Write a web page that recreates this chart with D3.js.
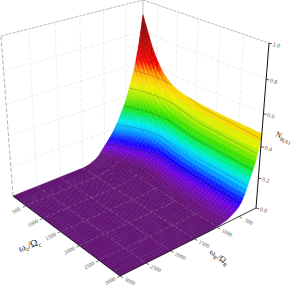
<!DOCTYPE html>
<html><head><meta charset="utf-8">
<script src="https://cdn.jsdelivr.net/npm/d3@7"></script>
<style>html,body{margin:0;padding:0;background:#fff;overflow:hidden}svg{display:block}text{font-family:"Liberation Serif",serif;fill:#555;text-rendering:geometricPrecision}</style>
</head><body><svg id="c" width="291" height="290"></svg>
<script>
const uValues=[100,150,200,250,330,480,680,900,1120,1650,2300,3000];
const vValues=[100,150,200,300,400,500,600,700,800,1000,1200,1500,2000,3000];
const zTable=[
[.91,.81,.72,.57,.47,.37,.30,.235,.18,.10,.03,0,0,0],
[.875,.775,.688,.542,.444,.347,.281,.219,.167,.093,.028,0,0,0],
[.84,.741,.656,.516,.417,.325,.262,.204,.155,.086,.025,0,0,0],
[.805,.707,.623,.488,.39,.302,.242,.188,.142,.078,.023,0,0,0],
[.75,.654,.574,.446,.352,.269,.213,.164,.124,.068,.02,0,0,0],
[.665,.573,.498,.383,.293,.218,.17,.13,.097,.052,.015,0,0,0],
[.585,.496,.426,.324,.237,.17,.13,.098,.071,.037,.01,0,0,0],
[.535,.447,.381,.285,.2,.139,.103,.076,.054,.027,.007,0,0,0],
[.51,.422,.356,.264,.179,.119,.086,.063,.043,.02,.005,0,0,0],
[.49,.398,.333,.242,.154,.097,.066,.046,.029,.012,.002,0,0,0],
[.482,.388,.321,.23,.141,.083,.054,.036,.021,.007,.001,0,0,0],
[.48,.384,.317,.226,.134,.077,.048,.031,.017,.005,0,0,0,0]];
const axisTicks=[500,1000,1500,2000,2500,3000];
const zTicks=[0,.2,.4,.6,.8,1];
const contourLevels=[.09,.18,.27,.36,.45];
const shadeU=[100,1000,1650,3000];
const contourK=[.8,.85,.95,1];
const fillOffset=[.05,.04,.015,0];
const colorStops=[0,.015,.05,.09,.14,.19,.24,.28,.36,.42,.48,.52,.575,.78];
const colorRamp=["#5e0f70","#6a0c8c","#7000e0","#1000ff","#0090ff","#00e8ff","#00f080","#20e000","#a8f000","#f0f000","#ffc800","#ff9000","#f40000","#900000"];

const floorQuad=[[142,144.4],[256,208],[120,276],[13,196]];
const topQuad=[[143,0],[269,43],[119,96],[1,36]];
const zPersp=1.124;

function homography(q){
  const [[x0,y0],[x1,y1],[x2,y2],[x3,y3]]=q;
  const dx1=x1-x2,dx2=x3-x2,sx=x0-x1+x2-x3,dy1=y1-y2,dy2=y3-y2,sy=y0-y1+y2-y3;
  const den=dx1*dy2-dx2*dy1;
  const g=(sx*dy2-dx2*sy)/den,h=(dx1*sy-sx*dy1)/den;
  const a=x1-x0+g*x1,b=x3-x0+h*x3,d=y1-y0+g*y1,e=y3-y0+h*y3;
  return (s,t)=>{const w=g*s+h*t+1;return [(a*s+b*t+x0)/w,(d*s+e*t+y0)/w];};
}
const Hf=homography(floorQuad),Ht=homography(topQuad);
const uS=d3.scaleLinear().domain([100,3000]).range([0,1]);
const vS=d3.scaleLinear().domain([100,3000]).range([0,1]);
const zS=d3.scaleLinear().domain([0,1]).range([0,1]);
const color=d3.scaleLinear().domain(colorStops).range(colorRamp).clamp(true);
const kS=d3.scaleLinear().domain(shadeU).range(contourK).clamp(true);
const oS=d3.scaleLinear().domain(shadeU).range(fillOffset).clamp(true);
function P(u,v,z){
  const a=uS(u),b=vS(v),t=zS(z),f=Hf(a,b),g=Ht(a,b),s=t/(t+(1-t)*zPersp);
  return [f[0]+(g[0]-f[0])*s,f[1]+(g[1]-f[1])*s];
}
const svg=d3.select("#c");
const line=d3.line();
function seg(g,pts,st,w,dash,op){g.append("path").attr("d",line(pts)).attr("fill","none").attr("stroke",st).attr("stroke-width",w).attr("stroke-dasharray",dash||null).attr("stroke-opacity",op==null?1:op);}

// walls
const wall=svg.append("g");
const uMin=100,uMax=3000,vMin=100,vMax=3000;
zTicks.slice(1).forEach(z=>{
  const top=z===1;
  const st=top?"#b0b0b0":"#ececec",d=top?"3 1":"4 2";
  seg(wall,[P(uMin,vMax,z),P(uMin,vMin,z)],st,.9,d);
  seg(wall,[P(uMin,vMin,z),P(uMax,vMin,z)],st,.9,d);
});
axisTicks.slice(0,-1).forEach(t=>{
  seg(wall,[P(uMin,t,0),P(uMin,t,1)],"#ececec",.9,"4 2");
  seg(wall,[P(t,vMin,0),P(t,vMin,1)],"#ececec",.9,"4 2");
});
seg(wall,[P(uMin,vMax,0),P(uMin,vMax,1)],"#a8a8a8",.9,"4 2");
seg(wall,[P(uMin,vMin,0),P(uMin,vMin,1)],"#c4c4c4",1);

// shading grid inside the table cells (monotone cubic, so the table knots leave no creases)
function pchip(xs,ys,x){
  const n=xs.length,h=[],dl=[];
  for(let i=0;i<n-1;i++){h.push(xs[i+1]-xs[i]);dl.push((ys[i+1]-ys[i])/h[i]);}
  const m=new Array(n).fill(0);
  m[0]=dl[0];m[n-1]=dl[n-2];
  for(let i=1;i<n-1;i++){
    if(dl[i-1]*dl[i]>0){const w1=2*h[i]+h[i-1],w2=h[i]+2*h[i-1];m[i]=(w1+w2)/(w1/dl[i-1]+w2/dl[i]);}
  }
  let i=Math.min(d3.bisectRight(xs,x)-1,n-2);if(i<0)i=0;
  const t=(x-xs[i])/h[i],t2=t*t,t3=t2*t;
  return (2*t3-3*t2+1)*ys[i]+(t3-2*t2+t)*h[i]*m[i]+(-2*t3+3*t2)*ys[i+1]+(t3-t2)*h[i]*m[i+1];
}
function refine(a,minSteps,step){
  const out=[];
  for(let i=0;i<a.length-1;i++){
    const n=Math.max(minSteps,Math.ceil((a[i+1]-a[i])/step));
    for(let k=0;k<n;k++)out.push(a[i]+(a[i+1]-a[i])*k/n);
  }
  out.push(a[a.length-1]);return out;
}
const uFine=refine(uValues,3,80),vFine=refine(vValues,2,40);
const vCols=vValues.map((_,j)=>zTable.map(r=>r[j]));
function zAt(u,v){
  const col=vCols.map(c=>pchip(uValues,c,u));
  return Math.max(0,pchip(vValues,col,v));
}
const gridZ=uFine.map(u=>{const col=vCols.map(c=>pchip(uValues,c,u));return vFine.map(v=>Math.max(0,pchip(vValues,col,v)));});
const surf=svg.append("g");
const quads=[];
for(let i=0;i<uFine.length-1;i++)for(let j=0;j<vFine.length-1;j++){
  const c=[[i,j],[i+1,j],[i+1,j+1],[i,j+1]].map(([a,b])=>{const u=uFine[a],v=vFine[b],z=gridZ[a][b];return {u,v,z,c:z*kS(u),f:Math.max(0,z-oS(u))};});
  quads.push(c);
}
surf.selectAll("polygon").data(quads).join("polygon")
  .attr("points",c=>c.map(p=>P(p.u,p.v,p.z).map(x=>x.toFixed(2)).join(",")).join(" "))
  .attr("fill",c=>color(d3.mean(c,p=>p.f)))
  .attr("stroke",c=>d3.color(color(d3.mean(c,p=>p.f))).darker(.06))
  .attr("stroke-width",.35);

// contours
const cont=svg.append("g");
let dC="";
quads.forEach(c=>{
  contourLevels.forEach(l=>{
    const pts=[];
    for(let k=0;k<4;k++){
      const p=c[k],q=c[(k+1)%4];
      if((p.c<l)!==(q.c<l)){
        const t=(l-p.c)/(q.c-p.c);
        pts.push(P(p.u+(q.u-p.u)*t,p.v+(q.v-p.v)*t,p.z+(q.z-p.z)*t));
      }
    }
    if(pts.length>=2)dC+=line(pts.slice(0,2));
  });
});
cont.append("path").attr("d",dC).attr("fill","none").attr("stroke","#303030").attr("stroke-opacity",.5).attr("stroke-width",.5);

// grid lines over the flat part of the surface
const gridG=svg.append("g");
axisTicks.slice(0,-1).forEach(t=>{
  seg(gridG,vFine.filter(v=>v>=1000).map(v=>P(t,v,zAt(t,v))),"#c9a6cf",.6,"4 2",.5);
  seg(gridG,uFine.filter(u=>zAt(u,t)<.03).map(u=>P(u,t,zAt(u,t))),"#c9a6cf",.6,"4 2",.5);
});

// axes
const ax=svg.append("g");
seg(ax,[P(uMin,vMax,0),P(uMax,vMax,0)],"#222",.9);
seg(ax,[P(uMax,vMax,0),P(uMax,vMin,0)],"#222",.9);
seg(ax,[P(uMax,vMin,0),P(uMax,vMin,1)],"#111",1);
function label(x,y,txt,rot,size,anchor){
  return ax.append("text").attr("transform",`translate(${x},${y}) rotate(${rot})`).attr("text-anchor",anchor||"middle").attr("font-size",size).text(txt);
}
axisTicks.forEach(t=>{
  const p=P(t,vMax,0);
  seg(ax,[p,[p[0]-3,p[1]+1.6]],"#333",.7);
  label(p[0]-9,p[1]+6.5,t,-27,5.6);
  const q=P(uMax,t,0);
  seg(ax,[q,[q[0]+3,q[1]+1.6]],"#333",.7);
  label(q[0]+9,q[1]+7,t,27,5.6);
});
zTicks.forEach(z=>{
  const p=P(uMax,vMin,z);
  seg(ax,[p,[p[0]+3,p[1]+.8]],"#222",.8);
  label(p[0]+7,p[1]+4,d3.format(".1f")(z),15,6);
});
function title(x,y,rot,base,s1,mid,s2,size){
  const t=ax.append("text").attr("transform",`translate(${x},${y}) rotate(${rot})`).attr("font-size",size).style("fill","#222");
  t.append("tspan").text(base);
  t.append("tspan").attr("dy",2).attr("font-size",size*.65).text(s1);
  if(mid){t.append("tspan").attr("dy",-2).text(mid);
  t.append("tspan").attr("dy",2).attr("font-size",size*.65).text(s2);}
}
title(20,252,-20,"ω","c","/Ω","c",10);
title(209,253,36,"ω","R","/Ω","R",8.5);
title(275,136,25,"N","R(A)",null,null,8);
</script></body></html>
